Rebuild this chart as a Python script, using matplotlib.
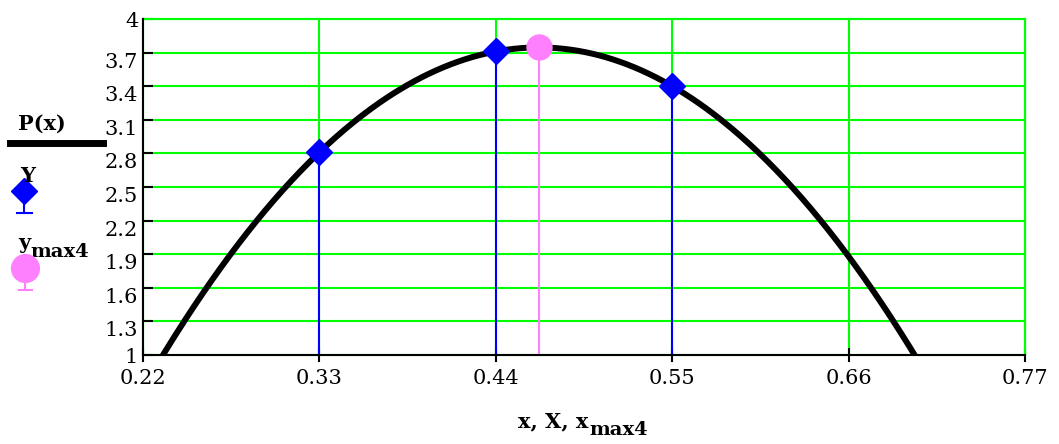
import numpy as np
import matplotlib
matplotlib.use("Agg")
import matplotlib.pyplot as plt
from matplotlib.lines import Line2D

plt.rcParams["font.family"] = "DejaVu Serif"

# data points
X = [0.33, 0.44, 0.55]
Y = [2.81, 3.71, 3.40]
x_ticks = [0.22, 0.33, 0.44, 0.55, 0.66, 0.77]
x_tick_labels = ["0.22", "0.33", "0.44", "0.55", "0.66", "0.77"]
y_ticks = [1, 1.3, 1.6, 1.9, 2.2, 2.5, 2.8, 3.1, 3.4, 3.7, 4]
y_tick_labels = ["1", "1.3", "1.6", "1.9", "2.2", "2.5", "2.8", "3.1", "3.4", "3.7", "4"]

# P(x): quadratic through the three points, and its maximum
coef = np.polyfit(X, Y, 2)
x_max4 = -coef[1] / (2 * coef[0])
y_max4 = np.polyval(coef, x_max4)
x = np.linspace(0.22, 0.77, 500)
P = np.polyval(coef, x)

GREEN = "#00ff00"
BLUE = "#0000ff"
PINK = "#ff80ff"
W, H = 1059, 444

fig = plt.figure(figsize=(W / 100, H / 100), dpi=100)
ax = fig.add_axes([143 / W, 1 - 355 / H, (1025 - 143) / W, (355 - 19) / H])

ax.plot(x, P, color="black", lw=4.3, zorder=3)
ax.vlines(X, 1, Y, color=BLUE, lw=1.5, zorder=2)
ax.vlines([x_max4], 1, [y_max4], color=PINK, lw=1.5, zorder=2)
ax.plot(X, Y, "D", color=BLUE, ms=13, mec=BLUE, zorder=4, ls="none")
ax.plot([x_max4], [y_max4], "o", color=PINK, ms=18, zorder=4)

ax.set_xlim(0.22, 0.77)
ax.set_ylim(1, 4)
ax.set_xticks(x_ticks)
ax.set_xticklabels(x_tick_labels)
ax.set_yticks(y_ticks)
ax.set_yticklabels(y_tick_labels)

ax.grid(True, color=GREEN, lw=1.5, zorder=1)
for gl in ax.get_xgridlines() + ax.get_ygridlines():
    gl.set_clip_on(False)
ax.set_axisbelow(True)

for s in ["top", "right"]:
    ax.spines[s].set_color(GREEN)
    ax.spines[s].set_linewidth(1.5)
for s in ["left", "bottom"]:
    ax.spines[s].set_color("black")
    ax.spines[s].set_linewidth(1.5)
    ax.spines[s].set_zorder(5)

ax.tick_params(axis="x", direction="inout", length=10, width=1.5, pad=5, labelsize=15)
ax.tick_params(axis="y", direction="in", length=7, width=1.5, pad=3.5, labelsize=15)
for lab in ax.get_yticklabels():
    if lab.get_text() not in ("1", "4"):
        lab.set_va("top")


def fx(px):
    return px / W


def fy(py):
    return 1 - py / H


def sub_text(px, py, main, sub, size=15, sub_size=14):
    # main text followed by a lowered subscript, Mathcad style
    t = fig.text(fx(px), fy(py), main, ha="left", va="baseline",
                 fontsize=size, fontweight="bold")
    a = ax.annotate(sub, xy=(1, 0), xycoords=t, xytext=(0.5, -3),
                    textcoords="offset points", ha="left", va="baseline",
                    fontsize=sub_size, fontweight="bold", annotation_clip=False)
    return t, a


# axis label
sub_text(518, 427, "x, X, x", "max4")

# legend drawn at left of the figure
fig.text(fx(18), fy(130), "P(x)", ha="left", va="baseline", fontsize=15, fontweight="bold")
fig.add_artist(Line2D([fx(10), fx(103)], [fy(143), fy(143)], color="black", lw=5,
                      transform=fig.transFigure))

fig.text(fx(20), fy(182), "Y", ha="left", va="baseline", fontsize=15, fontweight="bold")
fig.add_artist(Line2D([fx(24), fx(24)], [fy(192), fy(213)], color=BLUE, lw=1.5,
                      transform=fig.transFigure))
fig.add_artist(Line2D([fx(17), fx(32)], [fy(213), fy(213)], color=BLUE, lw=1.5,
                      transform=fig.transFigure))
fig.add_artist(Line2D([fx(24)], [fy(191)], marker="D", color=BLUE, ms=13,
                      transform=fig.transFigure))

sub_text(18, 249, "y", "max4")
fig.add_artist(Line2D([fx(25), fx(25)], [fy(268), fy(290)], color=PINK, lw=1.5,
                      transform=fig.transFigure))
fig.add_artist(Line2D([fx(19), fx(32)], [fy(290), fy(290)], color=PINK, lw=1.5,
                      transform=fig.transFigure))
fig.add_artist(Line2D([fx(25)], [fy(268)], marker="o", color=PINK, ms=20,
                      transform=fig.transFigure))

fig.savefig("out.png", dpi=100)
